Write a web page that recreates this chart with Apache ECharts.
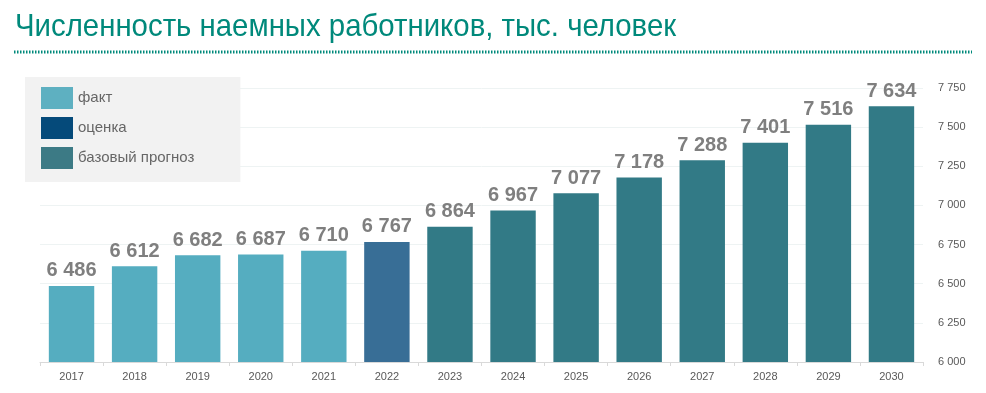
<!DOCTYPE html>
<html><head><meta charset="utf-8">
<script src="https://cdn.jsdelivr.net/npm/echarts@6/dist/echarts.min.js"></script>
<style>html,body{margin:0;padding:0;background:#fff}#c{width:986px;height:393px}</style>
</head><body><div id="c"></div>
<script>
const title = 'Численность наемных работников, тыс. человек';
const categories = ['2017','2018','2019','2020','2021','2022','2023','2024','2025','2026','2027','2028','2029','2030'];
const factValues     = [6486, 6612, 6682, 6687, 6710, '-', '-', '-', '-', '-', '-', '-', '-', '-'];
const estimateValues = ['-', '-', '-', '-', '-', 6767, '-', '-', '-', '-', '-', '-', '-', '-'];
const forecastValues = ['-', '-', '-', '-', '-', '-', 6864, 6967, 7077, 7178, 7288, 7401, 7516, 7634];
const seriesNames = ['факт', 'оценка', 'базовый прогноз'];
const yTicks = {min: 6000, max: 7750, interval: 250};

const fmt = v => String(v).replace(/\B(?=(\d{3})+(?!\d))/g, ' ');
const labelCfg = {show: true, position: 'top', distance: 5, formatter: p => fmt(p.value),
  fontFamily: 'Liberation Sans, Arial', fontWeight: 'bold', fontSize: 20, color: '#7f7f7f'};

const chart = echarts.init(document.getElementById('c'));
chart.setOption({
  animation: false,
  textStyle: {fontFamily: 'Liberation Sans, Arial'},
  graphic: [
    {type: 'text', left: 15, top: 11, scaleX: 0.918, originX: 0,
      style: {text: title, fontFamily: 'Liberation Sans, Arial', fontSize: 32, fill: '#00897b'}},
    {type: 'line', shape: {x1: 14, y1: 52, x2: 972, y2: 52},
      style: {stroke: '#00897b', lineWidth: 3, lineDash: [1.5, 1.5]}}],
  legend: {
    orient: 'vertical', left: 25, top: 77, itemWidth: 32, itemHeight: 22, itemGap: 8, icon: 'rect',
    backgroundColor: '#f2f2f2', padding: [10, 46, 13, 16],
    textStyle: {fontSize: 15, color: '#666666'},
    data: [
      {name: seriesNames[0], itemStyle: {color: '#5eb0c1'}},
      {name: seriesNames[1], itemStyle: {color: '#054a7a'}},
      {name: seriesNames[2], itemStyle: {color: '#3c7a85'}}
    ]
  },
  grid: {left: 40, right: 63, top: 88, bottom: 31},
  xAxis: {type: 'category', data: categories,
    axisLine: {lineStyle: {color: '#d9d9d9'}},
    axisTick: {show: true, length: 4, lineStyle: {color: '#d9d9d9'}},
    axisLabel: {color: '#595959', fontSize: 11, margin: 9}},
  yAxis: {type: 'value', position: 'right', min: yTicks.min, max: yTicks.max, interval: yTicks.interval,
    axisLine: {show: false}, axisTick: {show: false},
    splitLine: {lineStyle: {color: '#eef3f3'}},
    axisLabel: {color: '#595959', fontSize: 11, margin: 15, formatter: v => fmt(v)}},
  series: [
    {name: seriesNames[0], type: 'bar', stack: 'a', barWidth: '72%', data: factValues,
      itemStyle: {color: '#55adc0'}, label: labelCfg},
    {name: seriesNames[1], type: 'bar', stack: 'a', data: estimateValues,
      itemStyle: {color: '#386e96'}, label: labelCfg},
    {name: seriesNames[2], type: 'bar', stack: 'a', data: forecastValues,
      itemStyle: {color: '#327a86'}, label: labelCfg}
  ]
});
</script></body></html>
